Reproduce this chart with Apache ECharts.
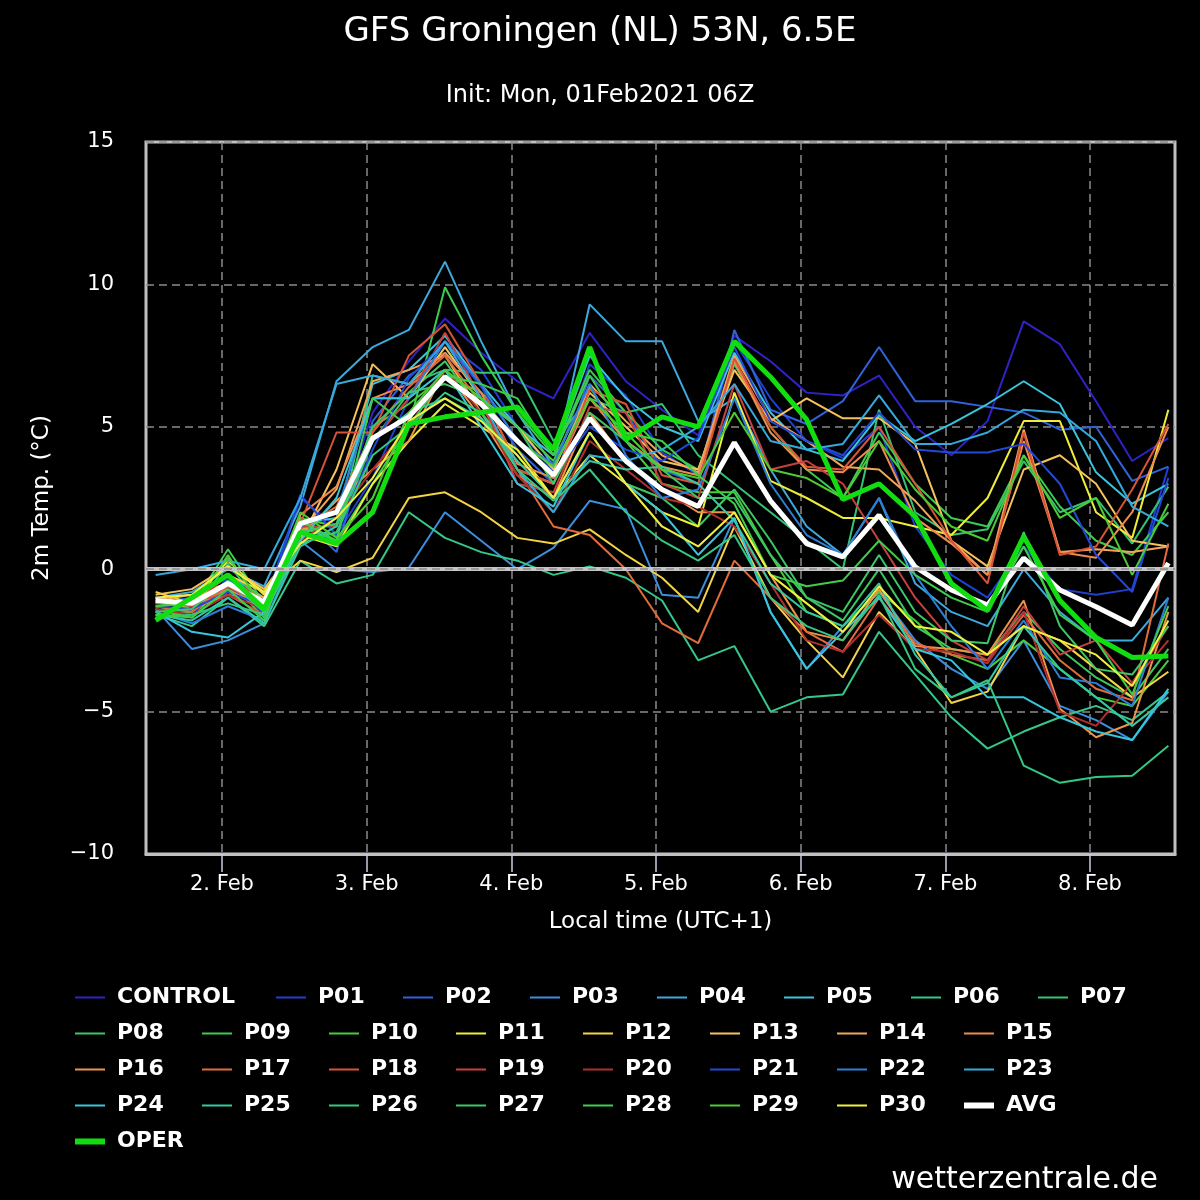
<!DOCTYPE html>
<html>
<head>
<meta charset="utf-8">
<script src="https://cdn.jsdelivr.net/npm/echarts@6/dist/echarts.min.js"></script>
<style>
    html, body { margin: 0; padding: 0; background: #000; }
    #main { width: 1200px; height: 1200px; }
</style>
</head>
<body>
<div id="main"></div>
<script>
// hours since 1 Feb 00:00 local (UTC+1), 6-hourly from 1 Feb 13:00
var hours = [13, 19, 25, 31, 37, 43, 49, 55, 61, 67, 73, 79, 85, 91, 97, 103, 109, 115, 121, 127, 133, 139, 145, 151, 157, 163, 169, 175, 181]
var dayTicks = [24, 48, 72, 96, 120, 144, 168]
var yTicks = [-10, -5, 0, 5, 10, 15]

// 2m temperature (°C) per member
var control = [-1.0, -1.5, -0.6, -1.5, 2.5, 1.5, 5.5, 7.3, 8.8, 7.6, 6.6, 6.0, 8.3, 6.6, 5.6, 4.7, 8.2, 7.3, 6.2, 6.1, 6.8, 5.0, 4.0, 5.2, 8.7, 7.9, 5.9, 3.8, 4.6]
var p01 = [-1.3, -1.6, -0.3, -1.6, 2.6, 1.2, 3.2, 6.0, 8.0, 7.0, 5.0, 3.4, 7.2, 6.1, 4.1, 3.3, 8.0, 6.0, 4.5, 3.9, 5.0, 1.5, -0.2, -1.0, 0.8, -0.7, -0.9, -0.7, 3.6]
var p02 = [-1.2, -1.0, -0.8, -1.3, 1.8, 0.6, 5.2, 6.8, 7.6, 6.2, 4.2, 3.0, 6.8, 5.5, 3.5, 3.0, 8.4, 5.6, 5.1, 5.9, 7.8, 5.9, 5.9, 5.7, 5.5, 4.9, 5.0, 3.1, 3.6]
var p03 = [-1.4, -2.8, -2.5, -1.9, 1.0, 0.0, -0.1, 0.05, 2.0, 1.0, 0.0, 0.75, 2.4, 2.1, -0.9, -1.0, 1.8, -1.5, -3.5, -2.0, -0.8, -2.5, -3.5, -4.2, -2.5, -4.8, -5.3, -6.0, -4.3]
var p04 = [-1.0, -0.8, 0.0, -0.6, 2.2, 6.6, 7.8, 8.4, 10.8, 8.0, 5.5, 3.6, 9.3, 8.0, 8.0, 5.2, 6.0, 3.5, 1.5, 0.5, 2.5, -0.5, -1.5, -2.0, 0.0, -1.5, -2.5, -2.5, -1.0]
var p05 = [-1.5, -1.2, -0.2, -1.0, 1.6, 1.8, 6.5, 7.0, 8.2, 6.5, 5.0, 4.0, 7.5, 6.0, 5.0, 4.5, 7.6, 5.5, 4.2, 3.8, 5.4, 4.5, 5.1, 5.8, 6.6, 5.8, 3.4, 2.3, 3.0]
var p06 = [-1.6, -2.0, -1.0, -2.0, 0.3, -0.5, -0.2, 2.0, 1.1, 0.6, 0.3, -0.2, 0.1, -0.3, -1.1, -3.2, -2.7, -5.0, -4.5, -4.4, -2.2, -3.7, -5.2, -6.3, -5.7, -5.2, -4.8, -5.3, -4.3]
var p07 = [-1.3, -1.5, 0.2, -1.4, 1.2, 1.0, 6.8, 6.5, 7.0, 6.9, 6.9, 4.5, 6.0, 5.5, 5.8, 4.0, 3.0, 2.0, 1.0, 0.0, 5.6, 2.0, 1.2, 1.4, 3.8, 2.0, 2.5, 0.9, 2.9]
var p08 = [-1.4, -1.7, -0.4, -1.7, 1.4, 1.2, 4.5, 6.2, 7.3, 5.5, 4.0, 2.5, 4.8, 3.0, 2.5, 1.5, 2.8, 1.0, -1.0, -1.8, 0.0, -2.0, -2.8, -3.0, -1.5, -2.8, -3.8, -4.5, -2.8]
var p09 = [-1.2, -1.3, 0.7, -1.2, 1.5, 1.0, 3.0, 5.0, 9.9, 7.5, 5.5, 4.0, 7.0, 5.5, 4.2, 3.5, 7.2, 5.0, 3.5, 2.5, 4.8, 3.0, 1.8, 1.5, 4.0, 2.2, 1.0, 0.5, 2.0]
var p10 = [-1.7, -1.5, 0.5, -1.5, 1.8, 1.5, 5.0, 5.8, 6.8, 6.2, 5.0, 3.8, 6.4, 4.5, 3.0, 2.7, 2.7, 0.5, -1.5, -2.0, -0.8, -1.8, -3.0, -3.5, -2.5, -3.5, -4.5, -4.8, -3.2]
var p11 = [-1.0, -1.2, 0.3, -0.9, 1.2, 0.8, 3.0, 4.5, 5.8, 5.0, 4.2, 2.5, 4.0, 3.0, 2.0, 1.5, 6.2, 3.1, 2.5, 1.8, 1.8, 1.5, 1.2, 2.5, 5.2, 5.2, 2.0, 1.1, 5.6]
var p12 = [-0.8, -1.2, -0.2, -0.8, 0.3, -0.1, 0.4, 2.5, 2.7, 2.0, 1.1, 0.9, 1.4, 0.5, -0.3, -1.5, 1.5, -1.0, -2.5, -3.8, -1.5, -2.8, -4.7, -4.3, -2.0, -2.5, -3.5, -4.5, -3.6]
var p13 = [-0.9, -0.7, 0.1, -0.7, 1.0, 3.5, 7.2, 6.0, 7.8, 6.0, 5.0, 3.5, 6.2, 5.0, 3.8, 3.5, 7.0, 5.2, 6.0, 5.3, 5.3, 4.4, 1.0, 0.1, 3.5, 4.0, 3.0, 1.0, 0.8]
var p14 = [-1.1, -0.9, -0.5, -1.0, 1.3, 2.8, 6.6, 7.0, 7.5, 5.5, 3.5, 3.0, 6.5, 5.2, 4.0, 3.4, 7.5, 5.3, 4.5, 3.6, 3.5, 2.4, 1.0, -0.2, 4.9, 0.6, 0.7, 0.6, 0.8]
var p15 = [-1.0, -1.3, -0.7, -1.4, 1.9, 2.9, 6.0, 6.5, 7.6, 6.2, 3.7, 3.2, 6.0, 4.5, 3.6, 3.3, 7.3, 4.8, 3.5, 3.4, 4.5, 1.8, 0.9, -0.2, 4.5, 0.6, 0.4, 2.0, 5.0]
var p16 = [-1.1, -1.4, -0.9, -1.1, 1.2, 2.4, 3.5, 4.5, 7.0, 5.3, 3.3, 2.5, 5.5, 3.8, 2.8, 2.0, 2.0, -0.2, -2.2, -2.5, -0.7, -2.7, -2.8, -3.0, -1.1, -4.9, -5.9, -5.4, -1.5]
var p17 = [-1.3, -1.5, -0.6, -1.3, 1.4, 2.2, 4.8, 6.4, 7.5, 5.8, 3.5, 1.5, 1.2, 0.0, -1.9, -2.6, 0.3, -1.0, -2.2, -2.9, -1.0, -2.6, -3.0, -3.2, -1.6, -3.2, -4.2, -4.6, 0.9]
var p18 = [-1.2, -1.1, -0.9, -1.6, 1.6, 4.8, 4.8, 7.5, 8.6, 6.5, 3.5, 3.0, 6.3, 5.8, 3.3, 3.0, 7.4, 5.0, 3.6, 3.5, 5.0, 3.0, 1.0, -0.5, 4.8, 0.5, 0.8, 2.8, 5.1]
var p19 = [-1.0, -1.3, -0.2, -1.2, 1.5, 1.5, 4.5, 6.0, 8.3, 6.0, 3.0, 2.7, 5.7, 5.5, 3.0, 2.5, 6.5, 3.5, 3.8, 3.0, 1.0, -1.0, -2.5, -3.2, -1.3, -3.0, -2.5, -4.0, -2.0]
var p20 = [-1.4, -1.6, -0.9, -1.4, 1.0, 1.8, 3.5, 5.0, 7.0, 5.5, 3.3, 2.0, 4.5, 3.5, 2.5, 2.2, 1.5, -0.5, -2.5, -2.9, -1.6, -2.8, -2.9, -3.3, -1.5, -5.0, -5.5, -4.0, -2.5]
var p21 = [-1.3, -1.4, -0.8, -1.3, 2.6, 1.2, 4.2, 6.7, 8.0, 6.4, 4.5, 3.3, 5.0, 4.2, 3.8, 4.6, 7.8, 5.2, 4.5, 4.0, 5.5, 4.2, 4.1, 4.1, 4.4, 3.0, 0.5, -0.8, 3.2]
var p22 = [-1.5, -1.9, -1.3, -1.8, 1.5, 2.0, 6.0, 6.0, 8.0, 6.5, 4.5, 3.7, 6.5, 4.0, 2.5, 2.8, 6.0, 3.0, 1.2, 0.5, 2.5, -0.2, -2.0, -3.5, -1.8, -3.8, -4.0, -4.8, -1.0]
var p23 = [-0.2, 0.0, 0.3, 0.0, 2.5, 6.5, 6.8, 6.5, 8.0, 6.0, 3.5, 2.0, 4.0, 3.8, 4.2, 5.0, 6.5, 4.5, 4.2, 4.4, 6.1, 4.4, 4.4, 4.8, 5.6, 5.5, 4.5, 2.2, 1.5]
var p24 = [-1.5, -2.2, -2.4, -1.5, 1.0, 2.5, 6.0, 6.0, 7.0, 5.0, 3.0, 2.2, 4.8, 3.0, 2.0, 0.5, 1.8, -1.5, -3.5, -2.2, -1.0, -2.8, -3.2, -4.5, -4.5, -5.2, -5.7, -6.0, -4.2]
var p25 = [-1.6, -1.8, -1.0, -1.9, 0.8, 1.5, 4.5, 5.5, 6.0, 5.3, 3.8, 2.5, 3.8, 3.5, 3.6, 3.0, 1.7, -0.5, -1.5, -2.0, -0.5, -3.0, -4.5, -4.0, -2.0, -3.5, -4.5, -5.5, -4.5]
var p26 = [-1.7, -1.6, -1.2, -1.6, 0.9, 1.3, 4.0, 5.0, 6.2, 5.5, 3.5, 2.4, 3.5, 2.0, 1.0, 0.3, 1.2, -1.0, -2.0, -2.5, -0.9, -3.5, -4.5, -3.9, -6.9, -7.5, -7.3, -7.25, -6.2]
var p27 = [-1.5, -1.4, -0.4, -1.5, 1.3, 1.6, 5.0, 6.2, 6.5, 6.0, 5.0, 3.0, 5.5, 4.5, 3.5, 2.5, 2.5, 0.5, -1.0, -1.5, 0.5, -1.5, -2.5, -2.6, 1.3, -2.0, -3.5, -3.7, -2.0]
var p28 = [-1.6, -1.7, -0.7, -1.8, 1.7, 1.0, 6.0, 5.0, 6.8, 6.5, 6.0, 4.0, 6.8, 4.8, 4.5, 3.3, 2.3, -0.2, -0.6, -0.4, 1.0, -0.2, -1.0, -1.5, 0.8, -1.6, -2.5, -4.4, -1.3]
var p29 = [-1.3, -1.2, 0.4, -1.3, 2.0, 1.1, 2.5, 5.5, 7.0, 6.0, 4.5, 3.6, 6.0, 4.8, 3.5, 3.2, 5.5, 3.5, 3.2, 2.5, 4.5, 2.8, 1.5, 1.0, 4.0, 1.8, 2.5, -0.2, 2.3]
var p30 = [-1.0, -0.9, 0.1, -0.8, 0.9, 1.8, 3.2, 5.2, 6.0, 5.2, 4.0, 2.5, 4.8, 3.0, 1.5, 0.8, 2.0, -0.2, -1.2, -2.2, -0.6, -2.0, -2.2, -3.0, -2.0, -2.5, -3.0, -4.1, -1.8]
var avg = [-1.1, -1.2, -0.5, -1.15, 1.6, 2.0, 4.6, 5.35, 6.75, 5.8, 4.5, 3.3, 5.3, 3.8, 2.8, 2.2, 4.45, 2.4, 0.9, 0.43, 1.9, 0.08, -0.73, -1.26, 0.39, -0.73, -1.32, -1.96, 0.22]
var oper = [-1.8, -1.0, -0.2, -1.4, 1.3, 0.9, 2.0, 5.1, 5.35, 5.5, 5.7, 4.2, 7.8, 4.55, 5.35, 5.0, 8.0, 6.75, 5.25, 2.45, 3.0, 1.85, -0.5, -1.45, 1.15, -1.1, -2.4, -3.1, -3.05]

var names = ['CONTROL', 'P01', 'P02', 'P03', 'P04', 'P05', 'P06', 'P07', 'P08', 'P09', 'P10',
    'P11', 'P12', 'P13', 'P14', 'P15', 'P16', 'P17', 'P18', 'P19', 'P20',
    'P21', 'P22', 'P23', 'P24', 'P25', 'P26', 'P27', 'P28', 'P29', 'P30', 'AVG', 'OPER']
var values = [control, p01, p02, p03, p04, p05, p06, p07, p08, p09, p10,
    p11, p12, p13, p14, p15, p16, p17, p18, p19, p20,
    p21, p22, p23, p24, p25, p26, p27, p28, p29, p30, avg, oper]
var colors = ['#3022c8', '#2040d0', '#2f63dc', '#3b8fdd', '#3ea9dc', '#3cc4dc', '#34c88a', '#34c474',
    '#3cc862', '#3ccc50', '#48cc3c', '#eeee3a', '#f4d444', '#f6c25c', '#f2a65a', '#ee8c4c',
    '#ec9448', '#e26c3c', '#d85438', '#c84040', '#b03030', '#2448d4', '#2c7ed8', '#34aadc',
    '#38c6dc', '#34c8a4', '#34c884', '#3cc868', '#40cc4c', '#4ccc34', '#f0f040', '#ffffff', '#11dd11']

var font = 'DejaVu Sans'
var myChart = echarts.init(document.getElementById('main'));

function isThick(name) {
    return name === 'AVG' || name === 'OPER'
}

var series = names.map(function (name, k) {
    return {
        name: name,
        type: 'line',
        symbol: 'none',
        showSymbol: false,
        color: colors[k],
        lineStyle: { width: isThick(name) ? 5 : 2, color: colors[k] },
        data: hours.map(function (h, i) { return [h, values[k][i]]; }),
        z: isThick(name) ? 4 : 3
    }
})
// zero line (solid light gray with the dashed grid line on top)
series.unshift({
    name: 'zero',
    type: 'line',
    data: [],
    z: 2,
    silent: true,
    markLine: {
        silent: true,
        symbol: 'none',
        label: { show: false },
        animation: false,
        data: [
            { yAxis: 0, lineStyle: { color: '#c4c4c4', width: 4, type: 'solid' } },
            { yAxis: 0, lineStyle: { color: '#8a8a8a', width: 1.5, type: [8, 5] } }
        ]
    }
})

// legend: plain line icons, CONTROL gets a wider text box
var legendData = names.map(function (n) {
    var item = {
        name: n,
        icon: isThick(n) ? 'path://M0,0H30V6H0Z' : 'path://M0,0H30V2H0Z'
    }
    if (n === 'CONTROL') item.textStyle = { width: 154 }
    return item
})

option = {
    backgroundColor: '#000',
    animation: false,
    title: [{
        text: 'GFS Groningen (NL) 53N, 6.5E',
        left: 'center',
        top: 10,
        textStyle: { color: '#fff', fontSize: 34, fontWeight: 'normal', fontFamily: font }
    }, {
        text: 'Init: Mon, 01Feb2021 06Z',
        left: 'center',
        top: 79,
        textStyle: { color: '#fff', fontSize: 24, fontWeight: 'normal', fontFamily: font }
    }, {
        text: 'wetterzentrale.de',
        right: 37,
        top: 1160,
        textStyle: { color: '#fff', fontSize: 30, fontWeight: 'normal', fontFamily: font }
    }],
    legend: {
        data: legendData,
        left: 75,
        top: 982,
        width: 1100,
        padding: 0,
        itemWidth: 30,
        itemHeight: 14,
        itemGap: 5,
        symbolKeepAspect: true,
        selectedMode: false,
        textStyle: {
            color: '#fff',
            fontSize: 22,
            fontWeight: 'bold',
            fontFamily: font,
            width: 80,
            lineHeight: 31,
            padding: [0, 0, 0, 7]
        }
    },
    grid: {
        left: 146,
        top: 142,
        right: 25,
        bottom: 346,
        show: true,
        borderColor: '#c0c0c0',
        borderWidth: 3,
        backgroundColor: 'transparent',
        containLabel: false
    },
    xAxis: {
        type: 'value',
        min: 11.4,
        max: 182.1,
        name: 'Local time (UTC+1)',
        nameLocation: 'middle',
        nameGap: 57,
        nameTextStyle: { color: '#fff', fontSize: 23, fontFamily: font },
        axisLine: { show: true, onZero: false, lineStyle: { color: '#c0c0c0', width: 3 } },
        axisTick: {
            show: true,
            inside: false,
            customValues: dayTicks,
            length: 18,
            lineStyle: { color: '#c8cce0', width: 1.5 }
        },
        axisLabel: {
            customValues: dayTicks,
            color: '#fff',
            fontSize: 21,
            fontFamily: font,
            margin: 20,
            formatter: function (v) { return (Math.round(v / 24) + 1) + '. Feb'; }
        },
        splitLine: {
            show: true,
            lineStyle: { color: '#8a8a8a', width: 1.5, type: [8, 5] }
        }
    },
    yAxis: {
        type: 'value',
        min: yTicks[0],
        max: yTicks[yTicks.length - 1],
        interval: 5,
        name: '2m Temp. (°C)',
        nameLocation: 'middle',
        nameGap: 92,
        nameTextStyle: { color: '#fff', fontSize: 23, fontFamily: font },
        axisLine: { show: false },
        axisTick: { show: false },
        axisLabel: {
            color: '#fff',
            fontSize: 21,
            fontFamily: font,
            margin: 32,
            formatter: function (v) { return String(v).replace('-', '\u2212'); }
        },
        splitLine: {
            show: true,
            lineStyle: { color: '#8a8a8a', width: 1.5, type: [8, 5] }
        }
    },
    series: series
};
myChart.setOption(option);
</script>
</body>
</html>
